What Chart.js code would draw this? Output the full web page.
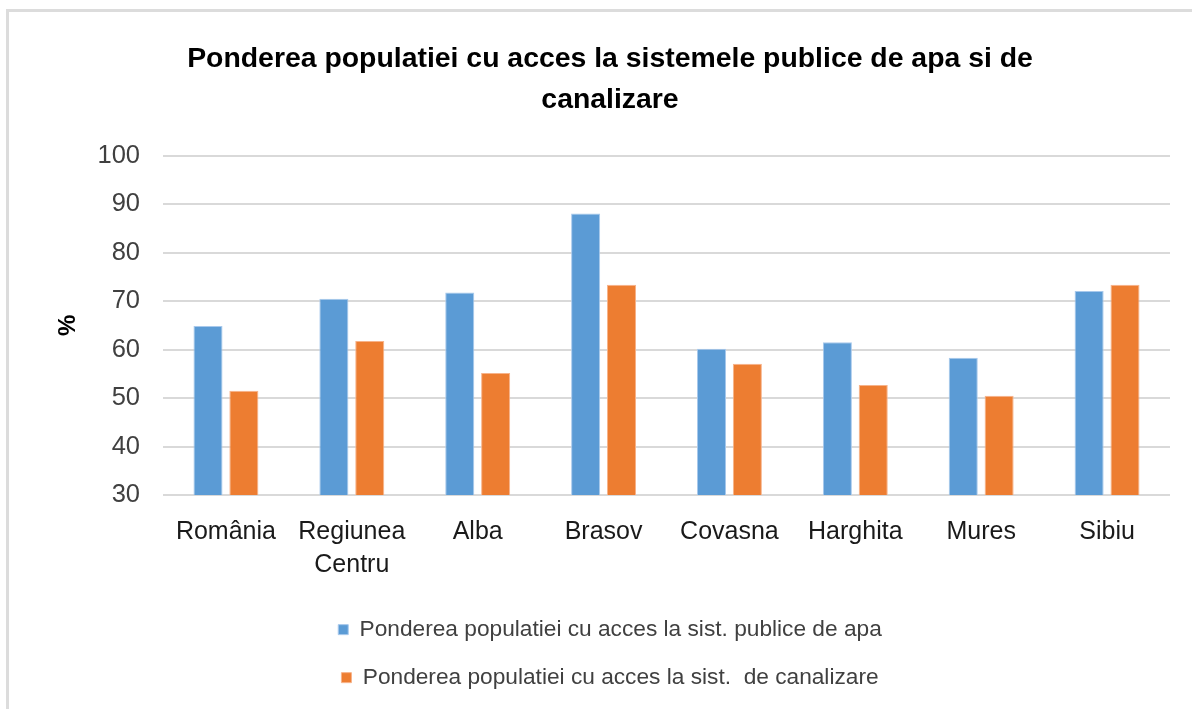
<!DOCTYPE html>
<html>
<head>
<meta charset="utf-8">
<script src="https://cdn.jsdelivr.net/npm/chart.js@4.4.1/dist/chart.umd.min.js"></script>
<style>
  html, body { margin: 0; padding: 0; background: #fff; overflow: hidden; }
  #wrap { position: absolute; left: 0; top: 0; width: 1192px; height: 709px; }
  #frame { position: absolute; left: 6px; top: 9px; width: 1400px; height: 900px; border-left: 3px solid #dcdcdc; border-top: 3px solid #dcdcdc; pointer-events: none; }
</style>
</head>
<body>
<div id="wrap"><canvas id="c" width="1192" height="709"></canvas></div>
<div id="frame"></div>
<script>
const categories = ['România', ['Regiunea', 'Centru'], 'Alba', 'Brasov', 'Covasna', 'Harghita', 'Mures', 'Sibiu'];
const seriesNames = ['Ponderea populatiei cu acces la sist. publice de apa', 'Ponderea populatiei cu acces la sist.  de canalizare'];
const apaValues = [64.9, 70.5, 71.8, 88.1, 60.2, 61.5, 58.3, 72.1];
const canalizareValues = [51.5, 61.8, 55.2, 73.4, 57.1, 52.7, 50.5, 73.4];
const titleLines = ['Ponderea populatiei cu acces la sistemele publice de apa si de', 'canalizare'];
const yAxisTitle = '%';

const FONT = "'Liberation Sans', Arial, sans-serif";
const TEXT = '#404040';

new Chart(document.getElementById('c'), {
  type: 'bar',
  data: {
    labels: categories,
    datasets: [
      { label: seriesNames[0], data: apaValues, backgroundColor: '#5b9bd5', borderColor: '#a8c9ec', borderWidth: 1, categoryPercentage: 0.57, barPercentage: 0.81 },
      { label: seriesNames[1], data: canalizareValues, backgroundColor: '#ed7d31', borderColor: '#f7b38a', borderWidth: 1, categoryPercentage: 0.57, barPercentage: 0.81 }
    ]
  },
  options: {
    responsive: false,
    animation: false,
    devicePixelRatio: 1,
    layout: { padding: { left: 50, right: 22, top: 0, bottom: 10 } },
    plugins: {
      title: {
        display: true,
        text: titleLines,
        color: '#000',
        font: { family: FONT, size: 28.4, weight: 'bold', lineHeight: 1.44 },
        padding: { top: 39, bottom: 35 }
      },
      legend: {
        display: true,
        position: 'bottom',
        labels: {
          color: TEXT,
          font: { family: FONT, size: 22.7 },
          boxWidth: 10, boxHeight: 10,
          padding: 25.3
        }
      },
      tooltip: { enabled: false }
    },
    scales: {
      x: {
        grid: { display: false },
        border: { display: false },
        ticks: { color: '#1a1a1a', font: { family: FONT, size: 25, lineHeight: 1.34 }, padding: 12, maxRotation: 0, autoSkip: false },
        afterFit: (scale) => { scale.height = 98; }
      },
      y: {
        min: 30, max: 100,
        ticks: { stepSize: 10, color: TEXT, font: { family: FONT, size: 25.5 }, padding: 23 },
        grid: { color: '#d9d9d9', lineWidth: 2, drawTicks: false },
        border: { display: false },
        title: { display: true, text: yAxisTitle, color: '#000', font: { family: FONT, size: 24, weight: 'bold' }, padding: { top: 4, bottom: 4 } },
        afterFit: (scale) => { scale.width = 113; }
      }
    }
  }
});
</script>
</body>
</html>
